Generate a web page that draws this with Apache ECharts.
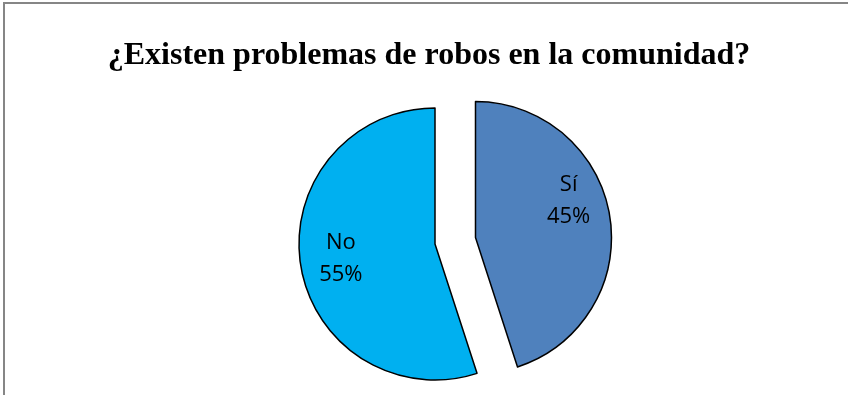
<!DOCTYPE html>
<html>
<head>
<meta charset="utf-8">
<style>
  html, body { margin: 0; padding: 0; background: #fff; }
  #chart { width: 848px; height: 395px; }
</style>
<script src="https://cdn.jsdelivr.net/npm/echarts@6/dist/echarts.min.js"></script>
</head>
<body>
<div id="chart"></div>
<script>
// Survey answers and their shares (percent)
var categories = ['Sí', 'No'];
var values = [45, 55];
var colors = ['#4F81BD', '#00B0F0'];
var titleText = '¿Existen problemas de robos en la comunidad?';

var chart = echarts.init(document.getElementById('chart'), null, { renderer: 'canvas' });

var pieData = categories.map(function (name, i) {
  return {
    name: name,
    value: values[i],
    selected: i === 0,
    itemStyle: { color: colors[i] }
  };
});

// Label nudges so each label sits in the open part of its slice
var labelShift = [
  { dx: 23, dy: -26 },
  { dx: -24, dy: 4 }
];

chart.setOption({
  backgroundColor: '#ffffff',
  animation: false,
  title: {
    text: titleText,
    left: 424,
    top: 35,
    textAlign: 'center',
    textStyle: {
      fontFamily: 'Liberation Serif',
      fontWeight: 'bold',
      fontSize: 32,
      color: '#000000'
    }
  },
  graphic: [{
    type: 'rect',
    shape: { x: 4, y: 3, width: 900, height: 500 },
    style: { fill: 'none', stroke: '#868686', lineWidth: 2 },
    silent: true
  }],
  series: [{
    type: 'pie',
    center: [435, 244],
    radius: [0, 136],
    startAngle: 90,
    clockwise: true,
    selectedMode: 'single',
    selectedOffset: 41,
    avoidLabelOverlap: false,
    itemStyle: { borderColor: '#000000', borderWidth: 1.5 },
    emphasis: { disabled: true },
    select: { itemStyle: { borderColor: '#000000', borderWidth: 1.5 } },
    label: {
      show: true,
      position: 'inside',
      formatter: '{b}\n{c}%',
      fontFamily: 'Open Sans',
      fontSize: 22,
      lineHeight: 32,
      color: '#000000',
      align: 'center'
    },
    labelLine: { show: false },
    labelLayout: function (params) {
      return labelShift[params.dataIndex];
    },
    data: pieData
  }]
});
</script>
</body>
</html>
